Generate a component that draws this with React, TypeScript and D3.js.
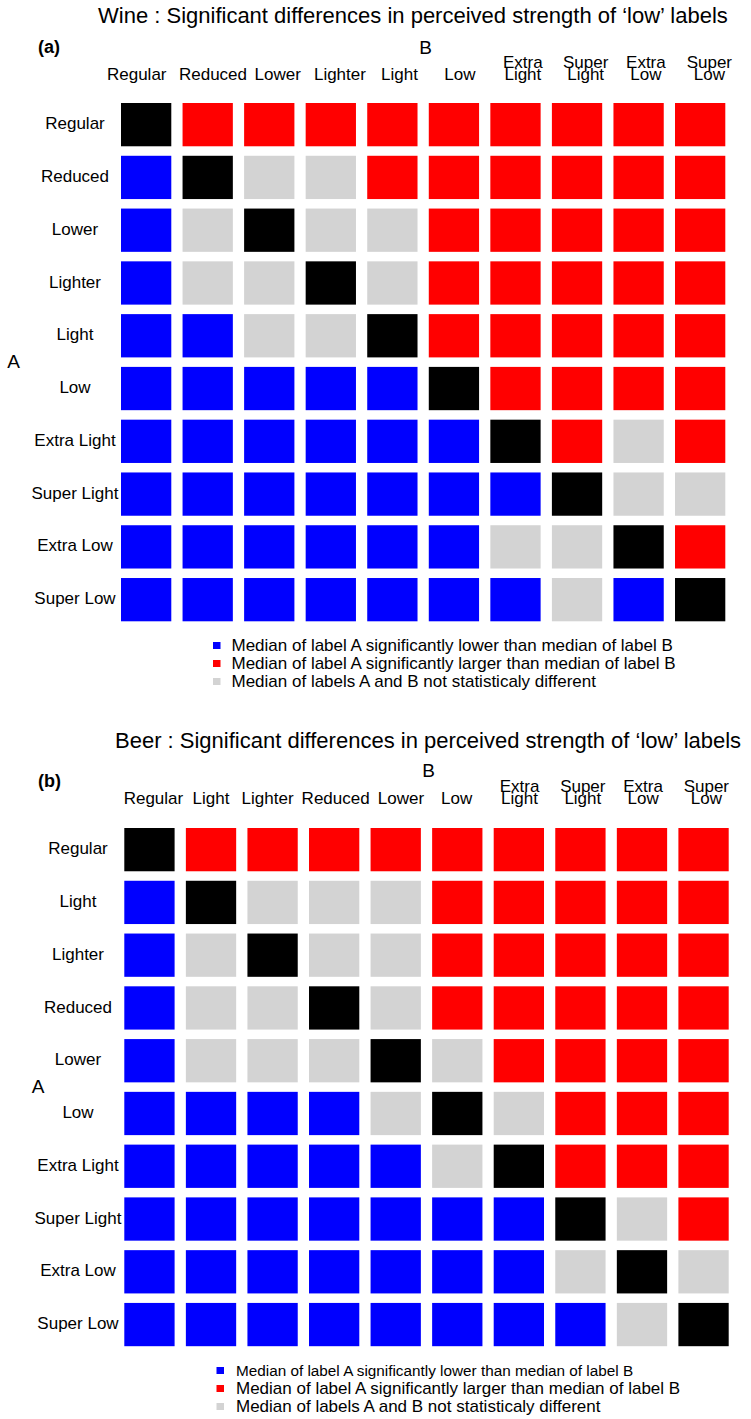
import React from "react";
import * as d3 from "d3";

// ---------- DATA ----------
const wineLabels = ["Regular", "Reduced", "Lower", "Lighter", "Light", "Low", "Extra Light", "Super Light", "Extra Low", "Super Low"];
const beerLabels = ["Regular", "Light", "Lighter", "Reduced", "Lower", "Low", "Extra Light", "Super Light", "Extra Low", "Super Low"];

// D = same label (diagonal), L = A significantly lower than B, H = A significantly larger than B, N = not different
const wineMatrix: string[][] = [
  ["D", "H", "H", "H", "H", "H", "H", "H", "H", "H"],
  ["L", "D", "N", "N", "H", "H", "H", "H", "H", "H"],
  ["L", "N", "D", "N", "N", "H", "H", "H", "H", "H"],
  ["L", "N", "N", "D", "N", "H", "H", "H", "H", "H"],
  ["L", "L", "N", "N", "D", "H", "H", "H", "H", "H"],
  ["L", "L", "L", "L", "L", "D", "H", "H", "H", "H"],
  ["L", "L", "L", "L", "L", "L", "D", "H", "N", "H"],
  ["L", "L", "L", "L", "L", "L", "L", "D", "N", "N"],
  ["L", "L", "L", "L", "L", "L", "N", "N", "D", "H"],
  ["L", "L", "L", "L", "L", "L", "L", "N", "L", "D"],
];

const beerMatrix: string[][] = [
  ["D", "H", "H", "H", "H", "H", "H", "H", "H", "H"],
  ["L", "D", "N", "N", "N", "H", "H", "H", "H", "H"],
  ["L", "N", "D", "N", "N", "H", "H", "H", "H", "H"],
  ["L", "N", "N", "D", "N", "H", "H", "H", "H", "H"],
  ["L", "N", "N", "N", "D", "N", "H", "H", "H", "H"],
  ["L", "L", "L", "L", "N", "D", "N", "H", "H", "H"],
  ["L", "L", "L", "L", "L", "N", "D", "H", "H", "H"],
  ["L", "L", "L", "L", "L", "L", "L", "D", "N", "H"],
  ["L", "L", "L", "L", "L", "L", "L", "N", "D", "N"],
  ["L", "L", "L", "L", "L", "L", "L", "L", "N", "D"],
];

const codes = ["D", "L", "H", "N"];
const codeColors = ["#000000", "#0000ff", "#ff0000", "#d3d3d3"];

const legendCodes = ["L", "H", "N"];
const legendTexts = [
  "Median of label A significantly lower than median of label B",
  "Median of label A significantly larger than median of label B",
  "Median of labels A and B not statisticaly different",
];

const wineTitle = "Wine : Significant differences in perceived strength of \u2018low\u2019 labels";
const beerTitle = "Beer : Significant differences in perceived strength of \u2018low\u2019 labels";

// ---------- LAYOUT ----------
const FONT = '"Liberation Sans", Arial, Helvetica, sans-serif';

const layoutA = {
  gridX: 121, gridY: 103, gridW: 604.3, gridH: 518.3,
  titleX: 98, titleY: 23,
  tagX: 38, tagY: 53,
  bX: 425.5, bY: 54,
  aX: 13.7, aY: 368,
  rowLabelX: 75, headerY: 80,
  legendSqX: 213, legendTextX: 231.5,
  legendY: [650.5, 668.5, 686.5], legendFont: [17, 17, 17],
  nudge: [-9.4, 5.3, 8.5, 9.1, 7.1, 6, 7.4, 8.6, 7.3, 9.2],
};

const layoutB = {
  gridX: 124.3, gridY: 828, gridW: 604.4, gridH: 518.2,
  titleX: 115, titleY: 748,
  tagX: 38, tagY: 787,
  bX: 428.5, bY: 777,
  aX: 38, aY: 1093,
  rowLabelX: 78, headerY: 804,
  legendSqX: 216.5, legendTextX: 236,
  legendY: [1375.5, 1393.5, 1411.5], legendFont: [15.3, 17, 17],
  nudge: [4, 0, -5, 1.5, 5.3, -0.6, 0.7, 2.4, 1.1, 2.8],
};

const color = d3.scaleOrdinal<string, string>().domain(codes).range(codeColors);

function Panel({ title, tag, labels, matrix, L }: any) {
  const x = d3.scaleBand<string>().domain(labels).range([L.gridX, L.gridX + L.gridW]).paddingInner(0.183).paddingOuter(0);
  const y = d3.scaleBand<string>().domain(labels).range([L.gridY, L.gridY + L.gridH]).paddingInner(0.18).paddingOuter(0);
  const bw = x.bandwidth();
  const bh = y.bandwidth();
  return (
    <g fontFamily={FONT} fill="#000">
      <text x={L.titleX} y={L.titleY} fontSize={22}>{title}</text>
      <text x={L.tagX} y={L.tagY} fontSize={18} fontWeight="bold">{tag}</text>
      <text x={L.bX} y={L.bY} fontSize={19} textAnchor="middle">B</text>
      <text x={L.aX} y={L.aY} fontSize={19} textAnchor="middle">A</text>
      {labels.map((lab: string, i: number) => {
        const cx = (x(lab) as number) + bw / 2 + L.nudge[i];
        const parts = lab.split(" ");
        if (parts.length === 1) {
          return (
            <text key={"h" + i} x={cx} y={L.headerY} fontSize={17} textAnchor="middle">{lab}</text>
          );
        }
        return (
          <text key={"h" + i} x={cx} y={L.headerY - 12} fontSize={17} textAnchor="middle">
            <tspan x={cx} y={L.headerY - 12}>{parts[0]}</tspan>
            <tspan x={cx} y={L.headerY}>{parts[1]}</tspan>
          </text>
        );
      })}
      {labels.map((lab: string, i: number) => (
        <text key={"r" + i} x={L.rowLabelX} y={(y(lab) as number) + bh / 2 + 4.6} fontSize={17} textAnchor="middle">{lab}</text>
      ))}
      {matrix.map((row: string[], i: number) =>
        row.map((c: string, j: number) => (
          <rect key={i + "-" + j} x={x(labels[j])} y={y(labels[i])} width={bw} height={bh} fill={color(c)} />
        ))
      )}
      {legendCodes.map((c, k) => (
        <g key={"l" + k}>
          <rect x={L.legendSqX} y={L.legendY[k] - 8.5} width={7.5} height={7} fill={color(c)} />
          <text x={L.legendTextX} y={L.legendY[k]} fontSize={L.legendFont[k]}>{legendTexts[k]}</text>
        </g>
      ))}
    </g>
  );
}

export default function App() {
  return (
    <svg width={751} height={1419} style={{ position: "absolute", left: 0, top: 0, background: "#fff" }}>
      <rect x={0} y={0} width={751} height={1419} fill="#fff" />
      <Panel title={wineTitle} tag="(a)" labels={wineLabels} matrix={wineMatrix} L={layoutA} />
      <Panel title={beerTitle} tag="(b)" labels={beerLabels} matrix={beerMatrix} L={layoutB} />
    </svg>
  );
}
